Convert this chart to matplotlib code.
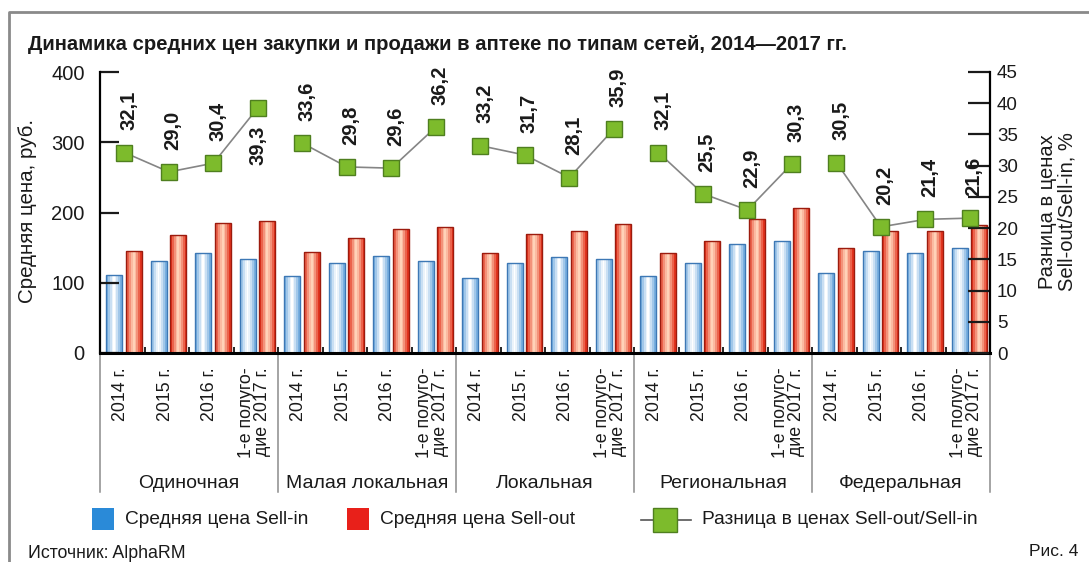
import matplotlib
matplotlib.use('Agg')
import matplotlib.pyplot as plt
from matplotlib.patches import Rectangle
from matplotlib.lines import Line2D
import matplotlib.transforms as mtransforms
import numpy as np

plt.rcParams['font.family'] = ['Liberation Sans', 'DejaVu Sans']

# ---------------- data ----------------
networks = ['Одиночная', 'Малая локальная', 'Локальная', 'Региональная', 'Федеральная']
periods = ['2014 г.', '2015 г.', '2016 г.', '1-е полуго-\nдие 2017 г.']
sell_in = [111, 131, 143, 134, 109, 128, 138, 131, 107, 128,
           137, 134, 109, 128, 155, 160, 114, 145, 143, 150]
sell_out = [145, 168, 185, 188, 144, 164, 177, 180, 143, 169,
            174, 183, 143, 159, 191, 207, 150, 174, 174, 182]
margin = [32.1, 29.0, 30.4, 39.3, 33.6, 29.8, 29.6, 36.2, 33.2, 31.7,
          28.1, 35.9, 32.1, 25.5, 22.9, 30.3, 30.5, 20.2, 21.4, 21.6]
labels_below = {3}

legend_labels = ['Средняя цена Sell-in', 'Средняя цена Sell-out',
                 'Разница в ценах Sell-out/Sell-in']
title = 'Динамика средних цен закупки и продажи в аптеке по типам сетей, 2014—2017 гг.'
left_label = 'Средняя цена, руб.'
right_label = 'Разница в ценах\nSell-out/Sell-in, %'
source = 'Источник: AlphaRM'
fig_no = 'Рис. 4'

# ---------------- styles ----------------
W, H = 1089, 562
def fx(px): return px / W
def fy(py): return 1 - py / H

TXT = '#1a1a1a'
BLUE_EDGE, BLUE_OUT, BLUE_IN = '#3d78b5', '#78afe0', '#ffffff'
RED_EDGE, RED_OUT, RED_IN = '#9c1b0e', '#e2331e', '#ffd2b8'
GREEN_FACE, GREEN_EDGE = '#7dbb2c', '#4f7f1f'
LINE_GRAY = '#858585'

def mix(c1, c2, t):
    a = np.array(matplotlib.colors.to_rgb(c1))
    b = np.array(matplotlib.colors.to_rgb(c2))
    return tuple(a * (1 - t) + b * t)

def grad_bars(ax, x, h, w, edge, outer, inner):
    layers = [(1.0, 0.0), (0.8, 0.3), (0.55, 0.6), (0.3, 0.85), (0.12, 1.0)]
    for frac, t in layers:
        ax.bar(x, h, w * frac, color=mix(outer, inner, t), linewidth=0, zorder=1)
    ax.bar(x, h, w, facecolor='none', edgecolor=edge, linewidth=1.0, zorder=1.1)

fig = plt.figure(figsize=(W / 100, H / 100), dpi=100)
ax = fig.add_axes([fx(100), fy(353), fx(990) - fx(100), fy(72) - fy(353)])
ax2 = ax.twinx()

n = len(sell_in)
idx = np.arange(n)
bw = 0.36
grad_bars(ax, idx + 0.315, sell_in, bw, BLUE_EDGE, BLUE_OUT, BLUE_IN)
grad_bars(ax, idx + 0.76, sell_out, bw, RED_EDGE, RED_OUT, RED_IN)

ax.set_xlim(0, n)
ax.set_ylim(0, 400)
ax2.set_ylim(0, 45)

# line per network group
per = len(periods)
for g in range(len(networks)):
    xs = idx[g * per:(g + 1) * per] + 0.55
    ys = margin[g * per:(g + 1) * per]
    ax2.plot(xs, ys, color=LINE_GRAY, lw=1.2, zorder=3)
    ax2.plot(xs, ys, ls='none', marker='s', ms=12, mfc=GREEN_FACE,
             mec=GREEN_EDGE, mew=1.0, zorder=4)

for i, v in enumerate(margin):
    txt = f'{v:.1f}'.replace('.', ',')
    if i in labels_below:
        ax2.annotate(txt, (i + 0.55, v), xytext=(0, -13), textcoords='offset points',
                     rotation=90, ha='center', va='top', fontsize=14.5,
                     fontweight='bold', zorder=5, color=TXT)
    else:
        ax2.annotate(txt, (i + 0.55, v), xytext=(3, 16), textcoords='offset points',
                     rotation=90, ha='center', va='bottom', fontsize=14.5,
                     fontweight='bold', zorder=5, color=TXT)

# spines & ticks
for a in (ax, ax2):
    a.spines['top'].set_visible(False)
ax.spines['left'].set_linewidth(1.6)
ax.spines['bottom'].set_linewidth(2.2)
ax.spines['right'].set_visible(False)
ax2.spines['left'].set_visible(False)
ax2.spines['bottom'].set_visible(False)
ax2.spines['right'].set_linewidth(1.6)

ax.set_yticks([0, 100, 200, 300, 400])
ax.tick_params(axis='y', direction='in', length=14, width=1.6, labelsize=14.5,
               pad=11, colors=TXT)
ax2.set_yticks(np.arange(0, 46, 5))
ax2.tick_params(axis='y', direction='in', length=16, width=1.6, labelsize=13.5,
                pad=5, colors=TXT)

ax.set_xticks([])
ax.set_xticks(np.arange(1, n), minor=True)
ax.tick_params(axis='x', which='minor', direction='in', length=4, width=1.2)

trans = mtransforms.blended_transform_factory(ax.transData, ax.transAxes)
for i in range(n):
    ax.text(i + 0.47, -0.05, periods[i % per], transform=trans, rotation=90,
            ha='center', va='top', multialignment='right', fontsize=12.8,
            color=TXT, linespacing=0.95)
for g in range(len(networks) + 1):
    ax.plot([g * per, g * per], [0, -0.495], transform=trans, clip_on=False,
            color='#8c8c8c', lw=1.1)
for g, name in enumerate(networks):
    ax.text(g * per + per / 2, -0.466, name, transform=trans, ha='center',
            va='center', fontsize=14, color=TXT)

fig.text(fx(28), fy(211), left_label, rotation=90, ha='center', va='center',
         fontsize=14.8, color=TXT)
fig.text(fx(1057), fy(212), right_label, rotation=90, ha='center', va='center',
         fontsize=14.5, color=TXT, multialignment='center', linespacing=1.05)

fig.text(fx(28), fy(44), title, ha='left', va='center', fontsize=14.6,
         fontweight='bold', color=TXT)

# legend
sq = 22
fig.add_artist(Rectangle((fx(92), fy(530)), sq / W, sq / H, transform=fig.transFigure,
                         facecolor='#2a8ad8', edgecolor='none'))
fig.text(fx(125), fy(520), legend_labels[0], ha='left', va='center', fontsize=13.8,
         color=TXT)
fig.add_artist(Rectangle((fx(347), fy(530)), sq / W, sq / H, transform=fig.transFigure,
                         facecolor='#e8201a', edgecolor='none'))
fig.text(fx(380), fy(520), legend_labels[1], ha='left', va='center', fontsize=13.8,
         color=TXT)
fig.add_artist(Line2D([fx(641), fx(691)], [fy(520), fy(520)], transform=fig.transFigure,
                      color='#555555', lw=1.2))
fig.add_artist(Line2D([fx(665)], [fy(520)], transform=fig.transFigure, ls='none',
                      marker='s', ms=17, mfc=GREEN_FACE, mec=GREEN_EDGE, mew=1.0))
fig.text(fx(702), fy(520), legend_labels[2], ha='left', va='center', fontsize=13.8,
         color=TXT)

fig.text(fx(28), fy(553), source, ha='left', va='center', fontsize=12.8, color=TXT)
fig.text(fx(1078), fy(552), fig_no, ha='right', va='center', fontsize=12.5, color=TXT)

# frame
fig.add_artist(Line2D([fx(9), fx(9), 1.0], [0, fy(12), fy(12)], transform=fig.transFigure,
                      color='#8a8a8a', lw=2.0))

fig.savefig('out.png', dpi=100)
